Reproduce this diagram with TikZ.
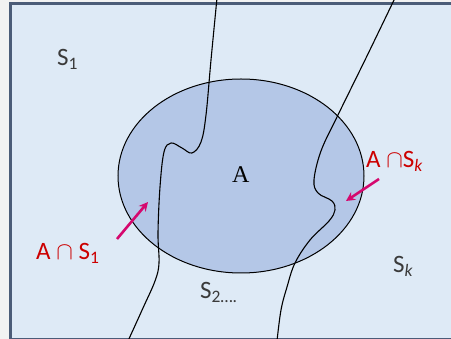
\documentclass[tikz,border=0pt]{standalone}
\usepackage{fontspec}
\setmainfont{Carlito}
\newfontfamily\serifA{Liberation Serif}
\usetikzlibrary{arrows.meta,shapes.geometric}
\definecolor{outgray}{HTML}{F2F2F2}
\definecolor{bgblue}{HTML}{DEEAF6}
\definecolor{frame}{HTML}{4B5C78}
\definecolor{setA}{HTML}{B4C7E7}
\definecolor{lblred}{HTML}{CC0000}
\definecolor{arrmag}{HTML}{D5086E}
\definecolor{txtgray}{HTML}{3A3A3A}
\tikzset{
  setlabel/.style={anchor=base west, inner sep=0pt, text=txtgray, font=\fontsize{25}{29}\selectfont},
  redlabel/.style={anchor=base west, inner sep=0pt, text=lblred, font=\fontsize{25}{29}\selectfont},
  partline/.style={black, line width=1.1pt},
  pointer/.style={arrmag, line width=2.6pt, -{Stealth[length=9pt,width=9pt]}}
}
\begin{document}
\begin{tikzpicture}[x=1pt,y=-1pt]
\useasboundingbox (0,0) rectangle (451,339);
\fill[outgray] (0,0) rectangle (451,339);
\begin{scope}
\clip (0,0) rectangle (451,339);
\fill[bgblue] (10.5,3.5) rectangle (470,339.5);
\draw[frame, line width=3pt] (10.5,3.5) rectangle (470,339.5);
\node[ellipse, draw=black, fill=setA, line width=1pt, minimum width=246pt, minimum height=194pt, inner sep=0pt] (A) at (241,176) {};
\draw[partline] plot[smooth, tension=0.6] coordinates {(217,-2) (211,60) (206,115) (201,142) (192,153) (182,148) (171,143) (164,152) (160,187) (158,233) (159,263) (155,281) (143,308) (128,341)};
\draw[partline] plot[smooth, tension=0.6] coordinates {(395,-2) (366,58) (337,117) (321,151) (314,180) (318,193) (332,201) (335,210) (329,221) (310,240) (295,263) (287,287) (281,310) (277,341)};
\end{scope}
\node[inner sep=0pt, anchor=base west, font=\serifA\fontsize{24}{28}\selectfont] (lA) at (232,183) {A};
\node[setlabel] (s1) at (57,66) {S\textsubscript{1}};
\node[setlabel] (s2) at (200,299) {S\textsubscript{2….}};
\node[setlabel] (sk) at (393,273) {S\textsubscript{\itshape k}};
\node[redlabel] (r1) at (36,260) {A $\cap$ S\textsubscript{1}};
\node[redlabel] (rk) at (366,168) {A $\cap$S\textsubscript{\itshape k}};
\coordinate (a1s) at (117,239);
\coordinate (a1e) at (148,202);
\coordinate (a2s) at (379,179);
\coordinate (a2e) at (346,201);
\draw[pointer] (a1s) -- (a1e);
\draw[pointer] (a2s) -- (a2e);
\end{tikzpicture}
\end{document}
